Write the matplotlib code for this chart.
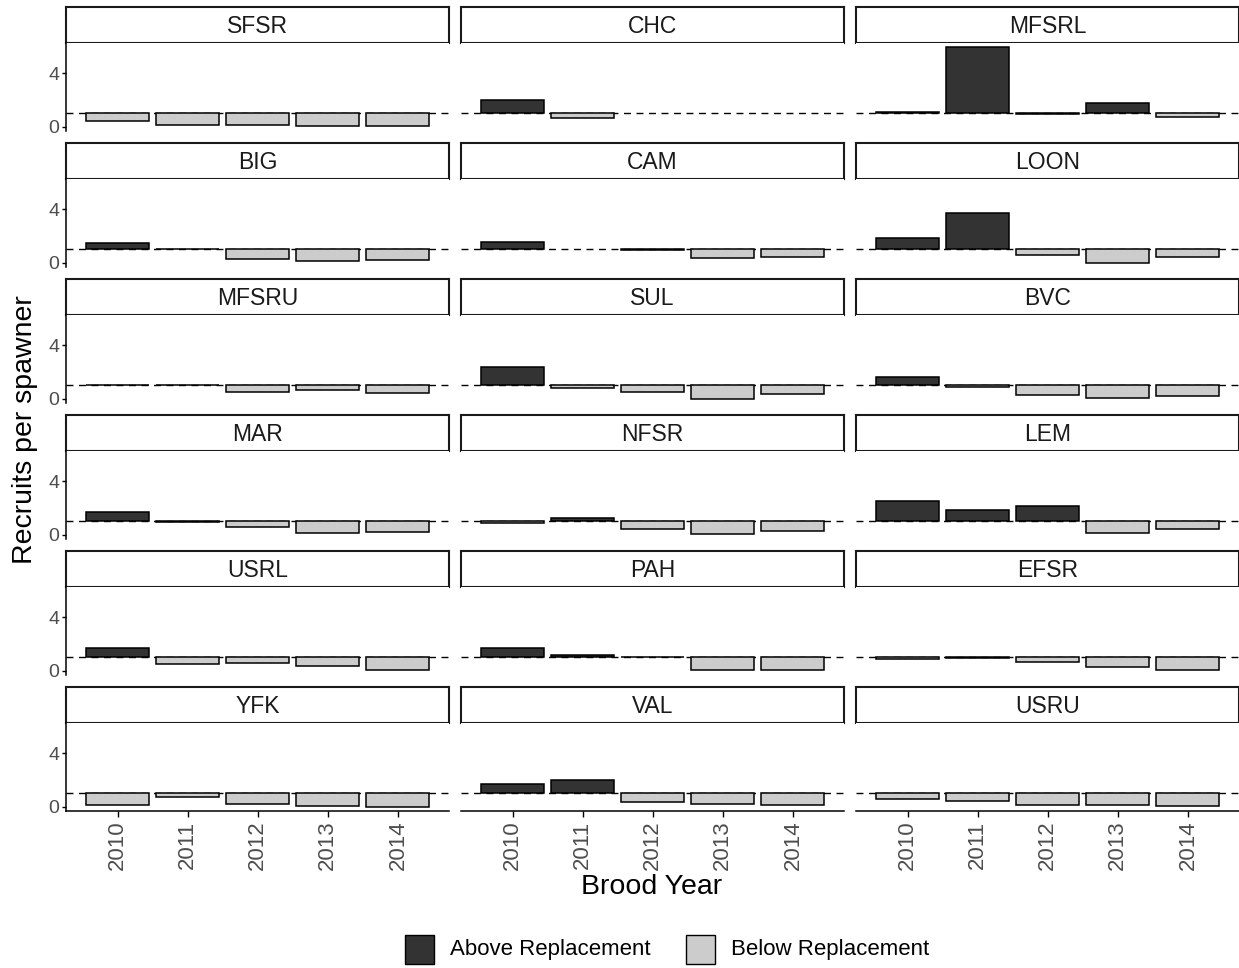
import numpy as np
import matplotlib
matplotlib.use("Agg")
import matplotlib.pyplot as plt
from matplotlib.patches import Rectangle

plt.rcParams['font.family'] = ['Liberation Sans', 'DejaVu Sans']

# --- donnees ----------------------------------------------------------
years = ["2010", "2011", "2012", "2013", "2014"]
sites = ["SFSR", "CHC", "MFSRL",
         "BIG", "CAM", "LOON",
         "MFSRU", "SUL", "BVC",
         "MAR", "NFSR", "LEM",
         "USRL", "PAH", "EFSR",
         "YFK", "VAL", "USRU"]

nan = np.nan
rps_SFSR = [0.45, 0.12, 0.15, 0.05, 0.05]
rps_CHC = [2.0, 0.62, nan, nan, nan]
rps_MFSRL = [1.08, 5.95, 0.92, 1.75, 0.75]
rps_BIG = [1.5, 1.03, 0.28, 0.1, 0.2]
rps_CAM = [1.55, nan, 0.92, 0.35, 0.45]
rps_LOON = [1.88, 3.7, 0.58, 0.02, 0.4]
rps_MFSRU = [1.02, 1.05, 0.48, 0.62, 0.45]
rps_SUL = [2.35, 0.78, 0.48, 0.02, 0.33]
rps_BVC = [1.6, 0.88, 0.25, 0.08, 0.2]
rps_MAR = [1.72, 0.93, 0.55, 0.1, 0.18]
rps_NFSR = [0.88, 1.28, 0.43, 0.03, 0.25]
rps_LEM = [2.48, 1.88, 2.13, 0.1, 0.45]
rps_USRL = [1.7, 0.5, 0.55, 0.38, 0.08]
rps_PAH = [1.72, 1.2, 1.05, 0.05, 0.05]
rps_EFSR = [0.9, 0.98, 0.65, 0.28, 0.05]
rps_YFK = [0.1, 0.72, 0.18, 0.05, 0.0]
rps_VAL = [1.72, 2.0, 0.33, 0.2, 0.15]
rps_USRU = [0.6, 0.4, 0.15, 0.1, 0.05]

valeurs = [rps_SFSR, rps_CHC, rps_MFSRL, rps_BIG, rps_CAM, rps_LOON,
           rps_MFSRU, rps_SUL, rps_BVC, rps_MAR, rps_NFSR, rps_LEM,
           rps_USRL, rps_PAH, rps_EFSR, rps_YFK, rps_VAL, rps_USRU]

replacement = 1.0
col_above = "#333333"
col_below = "#CCCCCC"

W, H = 1239, 968
fig = plt.figure(figsize=(W / 100, H / 100), dpi=100)


def rect_px(left, top, w, h):
    """Rectangle en pixels (origine en haut a gauche) -> coordonnees figure."""
    return [left / W, 1 - (top + h) / H, w / W, h / H]


col_left = [66, 461, 856]
panel_w = 383
strip_h = 36
panel_h = 88
row_pitch = 136

for i, (site, vals) in enumerate(zip(sites, valeurs)):
    r, c = divmod(i, 3)
    top = 7 + row_pitch * r

    # bandeau du facet
    sax = fig.add_axes(rect_px(col_left[c], top, panel_w, strip_h))
    sax.set_xticks([])
    sax.set_yticks([])
    for sp in sax.spines.values():
        sp.set_linewidth(1.5)
        sp.set_color("#1a1a1a")
    sax.text(0.5, 0.47, site, ha="center", va="center", fontsize=16.5,
             color="#1a1a1a", transform=sax.transAxes)

    ax = fig.add_axes(rect_px(col_left[c], top + strip_h, panel_w, panel_h))
    x = np.arange(len(years))
    v = np.array(vals, dtype=float)
    ok = ~np.isnan(v)
    couleurs = [col_above if val >= replacement else col_below for val in v[ok]]
    ax.bar(x[ok], v[ok] - replacement, bottom=replacement, width=0.9,
           color=couleurs, edgecolor="black", linewidth=1.1, zorder=2)
    ax.axhline(replacement, color="black", lw=1.0, dashes=(5, 4), zorder=1)

    ax.set_xlim(-0.74, 4.73)
    ax.set_ylim(-0.31, 6.23)
    ax.spines["top"].set_visible(False)
    ax.spines["right"].set_visible(False)

    if c == 0:
        ax.spines["left"].set_linewidth(1.1)
        ax.set_yticks([0, 4])
        ax.tick_params(axis="y", labelsize=14, labelcolor="#4D4D4D",
                       length=3, width=1, pad=2)
    else:
        ax.spines["left"].set_visible(False)
        ax.set_yticks([])

    if r == 5:
        ax.spines["bottom"].set_linewidth(1.1)
        ax.set_xticks(x)
        ax.set_xticklabels(years, rotation=90)
        ax.tick_params(axis="x", labelsize=16, labelcolor="#4D4D4D",
                       length=4, width=1, pad=3)
    else:
        ax.spines["bottom"].set_visible(False)
        ax.set_xticks([])

# titres des axes
fig.text(25 / W, 1 - 430 / H, "Recruits per spawner", rotation=90,
         ha="center", va="center", fontsize=20.5)
fig.text(652 / W, 1 - 887 / H, "Brood Year", ha="center", va="center",
         fontsize=20.5)

# legende
leg = fig.add_axes([0, 0, 1, 1], frameon=False)
leg.set_xlim(0, W)
leg.set_ylim(H, 0)
leg.set_xticks([])
leg.set_yticks([])
leg.add_patch(Rectangle((405, 935), 29, 29, facecolor=col_above,
                        edgecolor="black", lw=1.0))
leg.text(450, 949, "Above Replacement", va="center", ha="left", fontsize=16)
leg.add_patch(Rectangle((686, 935), 29, 29, facecolor=col_below,
                        edgecolor="black", lw=1.0))
leg.text(714 + 17, 949, "Below Replacement", va="center", ha="left", fontsize=16)

fig.savefig("out.png", dpi=100)
